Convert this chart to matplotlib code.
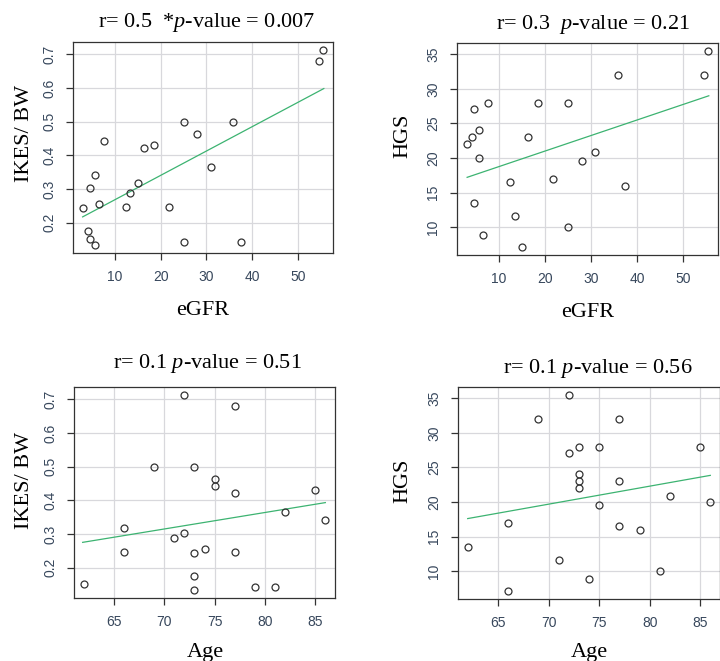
import numpy as np
import matplotlib
matplotlib.use("Agg")
import matplotlib.pyplot as plt

# Per-patient values
egfr = [55.5, 54.6, 25.1, 35.8, 28.0, 7.7, 16.4, 18.6, 30.9, 5.6, 4.6,
        15.1, 13.4, 6.5, 3.0, 12.5, 21.8, 4.1, 4.7, 5.7, 25.1, 37.5]
ikes_bw = [0.713, 0.679, 0.500, 0.500, 0.462, 0.442, 0.421, 0.431, 0.365, 0.340, 0.302,
           0.319, 0.288, 0.256, 0.243, 0.246, 0.246, 0.176, 0.151, 0.133, 0.141, 0.141]
hgs = [35.5, 32.0, 28.0, 32.0, 19.6, 28.0, 23.0, 28.0, 20.9, 20.0, 27.1,
       7.1, 11.6, 8.9, 22.0, 16.5, 16.9, 23.0, 13.5, 24.0, 10.0, 16.0]
age = [72, 77, 73, 69, 75, 75, 77, 85, 82, 86, 72,
       66, 71, 74, 73, 77, 66, 73, 62, 73, 81, 79]

# Fitted-line end points (x_start, x_end), (y_start, y_end)
fit_ikes_egfr = ([3.0, 55.6], [0.217, 0.598])
fit_hgs_egfr = ([3.1, 55.6], [17.2, 29.0])
fit_ikes_age = ([61.9, 86.0], [0.275, 0.393])
fit_hgs_age = ([62.0, 86.0], [17.6, 23.85])

titles = [r"r= 0.5  *$\it{p}$-value = 0.007",
          r"r= 0.3  $\it{p}$-value = 0.21",
          r"r= 0.1 $\it{p}$-value = 0.51",
          r"r= 0.1 $\it{p}$-value = 0.56"]
xlabels = ["eGFR", "eGFR", "Age", "Age"]
ylabels = ["IKES/ BW", "HGS", "IKES/ BW", "HGS"]
xticks_egfr = [10, 20, 30, 40, 50]
xticks_age = [65, 70, 75, 80, 85]
yticks_ikes = [0.2, 0.3, 0.4, 0.5, 0.6, 0.7]
yticks_hgs = [10, 15, 20, 25, 30, 35]

plt.rcParams['mathtext.fontset'] = 'custom'
plt.rcParams['mathtext.rm'] = 'Liberation Serif'
plt.rcParams['mathtext.it'] = 'Liberation Serif:italic'

W, H = 720, 661
fig = plt.figure(figsize=(W / 100, H / 100), dpi=100)

boxes = [(73, 333, 42, 253), (457, 718, 43, 255), (74, 335, 387, 598), (458, 720, 387, 599)]
title_pos = [(207, 27), (593, 29), (207, 368), (598, 373)]
xlabel_pos = [(203, 315), (588, 317), (205, 657), (589, 657)]
ylabel_pos = [(25, 133), (403, 136), (25, 480), (403, 481)]
panels = [(egfr, ikes_bw, xticks_egfr, yticks_ikes, fit_ikes_egfr),
          (egfr, hgs, xticks_egfr, yticks_hgs, fit_hgs_egfr),
          (age, ikes_bw, xticks_age, yticks_ikes, fit_ikes_age),
          (age, hgs, xticks_age, yticks_hgs, fit_hgs_age)]

tick_color = "#37475c"
line_color = "#3cb371"

for i, ((l, r, t, b), (xs, ys, xt, yt, fit)) in enumerate(zip(boxes, panels)):
    ax = fig.add_axes([l / W, (H - b) / H, (r - l) / W, (b - t) / H])
    xs = np.asarray(xs, float)
    ys = np.asarray(ys, float)
    xr = xs.max() - xs.min()
    yr = ys.max() - ys.min()
    ax.set_xlim(xs.min() - 0.04 * xr, xs.max() + 0.04 * xr)
    ax.set_ylim(ys.min() - 0.04 * yr, ys.max() + 0.04 * yr)
    ax.set_xticks(xt)
    ax.set_yticks(yt)
    ax.grid(True, color="#d8d8dc", linewidth=0.9, zorder=0)
    ax.set_axisbelow(True)
    ax.plot(xs, ys, 'o', markerfacecolor='none', markeredgecolor='#333333',
            markersize=5.0, markeredgewidth=0.9, zorder=3)
    ax.plot(fit[0], fit[1], color=line_color, linewidth=0.9, zorder=2)
    for s in ax.spines.values():
        s.set_color("#333333")
        s.set_linewidth(0.9)
    ax.tick_params(axis='both', direction='out', length=5, width=0.9, color='#333333',
                   labelcolor=tick_color, labelsize=10, pad=7)
    ax.set_xticklabels([("%g" % v) for v in xt], fontfamily='Liberation Sans',
                       color=tick_color, fontsize=10)
    ax.set_yticklabels([("%g" % v) for v in yt], rotation=90, va='center',
                       fontfamily='Liberation Sans', color=tick_color, fontsize=10)
    tx, ty = title_pos[i]
    fig.text(tx / W, (H - ty) / H, titles[i], fontfamily='Liberation Serif', fontsize=16,
             ha='center', va='baseline')
    lx, ly = xlabel_pos[i]
    fig.text(lx / W, (H - ly) / H, xlabels[i], fontfamily='Liberation Serif', fontsize=16,
             ha='center', va='baseline')
    yx, yy = ylabel_pos[i]
    fig.text(yx / W, (H - yy) / H, ylabels[i], fontfamily='Liberation Serif', fontsize=16,
             ha='center', va='center', rotation=90)

fig.savefig("out.png", dpi=100)
